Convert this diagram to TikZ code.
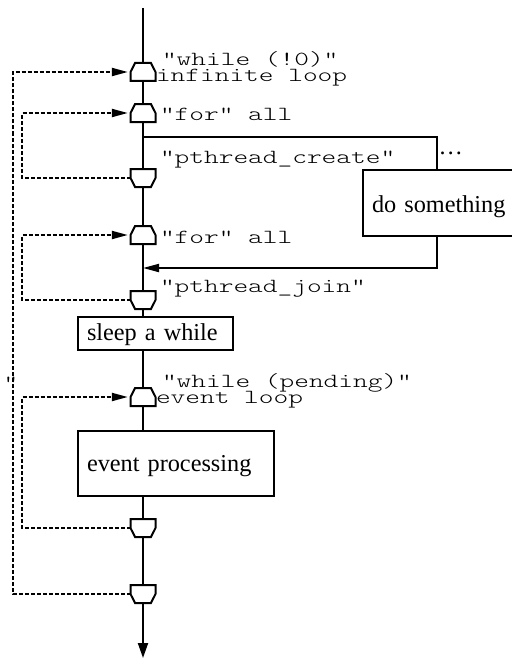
\documentclass[tikz,border=0pt]{standalone}
\usepackage{fontspec}
\setmainfont{Liberation Serif}
\newfontfamily\codefont{lmmonolt10-regular.otf}[FakeStretch=1.4]
\usetikzlibrary{arrows.meta}
\newcommand\loopstartshape[1]{\draw[shapeline] (#1.south west) -- ([yshift=-6.75pt]#1.north west) -- ([xshift=3.4pt]#1.north west) -- ([xshift=-3.4pt]#1.north east) -- ([yshift=-6.75pt]#1.north east) -- (#1.south east) -- cycle;}
\newcommand\loopendshape[1]{\draw[shapeline] (#1.north west) -- ([yshift=6.75pt]#1.south west) -- ([xshift=3.4pt]#1.south west) -- ([xshift=-3.4pt]#1.south east) -- ([yshift=6.75pt]#1.south east) -- (#1.north east) -- cycle;}
\begin{document}
\begin{tikzpicture}[x=0.75pt,y=-0.75pt,
  line width=1.5pt,
  flow/.style={draw=black, line width=1.5pt},
  shapeline/.style={draw=black, fill=white, line width=1.5pt, line join=miter},
  loopnode/.style={minimum width=18.75pt, minimum height=13.5pt, inner sep=0pt, outer sep=0pt},
  back/.style={draw=black, line width=1.5pt, dash pattern=on 3pt off 1.5pt, shorten >=2pt},
  code/.style={font=\codefont\fontsize{15pt}{16pt}\selectfont, inner sep=0pt, anchor=base west},
  serif/.style={font=\fontsize{18.2pt}{20pt}\selectfont},
  box/.style={draw=black, line width=1.5pt, serif, anchor=base west, inner xsep=6.75pt, inner ysep=0pt, outer sep=0pt, align=left},
  tip/.style={-{Triangle[length=12pt,width=6pt]}}
]
\useasboundingbox (0,0) rectangle (511,660);

% main axis nodes
\coordinate (top) at (143,8);
\node[loopnode] (s1) at (143,72) {};
\node[loopnode] (s2) at (143,113) {};
\coordinate (j1) at (143,137);
\node[loopnode] (e2) at (143,178) {};
\node[loopnode] (s3) at (143,235) {};
\coordinate (j2) at (143,268);
\node[loopnode] (e3) at (143,300) {};
\node[box, text width=102.75pt, text height=17.6pt, text depth=7.1pt] (sleep) at (78,340.5) {sleep a while};
\node[loopnode] (s4) at (143,397) {};
\node[box, text width=133.5pt, text height=30.4pt, text depth=18.4pt] (ev) at (78,471.5) {event processing};
\node[loopnode] (e4) at (143,528) {};
\node[loopnode] (e1) at (143,594) {};
\coordinate (bot) at (143,658);

% thread branch
\coordinate (c1) at (437,137);
\coordinate (c2) at (437,268);
\node[box, text width=106.5pt, text height=31.5pt, text depth=18pt] (doit) at (363,212) {do something};

% loop-back columns
\coordinate (L0) at (13,0);
\coordinate (L1) at (22,0);

% main flow
\draw[flow] (top) -- (s1.north);
\draw[flow] (s1.south) -- (s2.north);
\draw[flow] (s2.south) -- (e2.north);
\draw[flow] (e2.south) -- (s3.north);
\draw[flow] (s3.south) -- (e3.north);
\draw[flow] (e3.south) -- (e3.south |- sleep.north);
\draw[flow] (e3.south |- sleep.south) -- (s4.north);
\draw[flow] (s4.south) -- (s4.south |- ev.north);
\draw[flow] (s4.south |- ev.south) -- (e4.north);
\draw[flow] (e4.south) -- (e1.north);
\draw[flow, -{Triangle[length=11.25pt,width=7.5pt]}] (e1.south) -- (bot);

% fork / join
\draw[flow] (j1) -- (c1) -- (c1 |- doit.north);
\draw[flow, tip] (c1 |- doit.south) -- (c2) -- (j2);

% loop backs
\draw[back, tip] (e1.west) -| (L0 |- s1) -- (s1.west);
\draw[back, tip] (e2.west) -| (L1 |- s2) -- (s2.west);
\draw[back, tip] (e3.west) -| (L1 |- s3) -- (s3.west);
\draw[back, tip] (e4.west) -| (L1 |- s4) -- (s4.west);

% loop shapes
\loopstartshape{s1}
\loopstartshape{s2}
\loopstartshape{s3}
\loopstartshape{s4}
\loopendshape{e2}
\loopendshape{e3}
\loopendshape{e4}
\loopendshape{e1}

% labels
\node[code] (t1a) at (161,65) {"while (!0)"};
\node[code] (t1b) at (155,81.7) {infinite loop};
\node[code] (t2) at (159,120) {"for" all};
\node[code] (t3) at (159,163) {"pthread\_create"};
\node[serif, inner sep=0pt, anchor=base west] (dots) at (437.5,154) {…};
\node[code] (t4) at (159,243) {"for" all};
\node[code] (t5) at (159,292) {"pthread\_join"};
\node[code] (t6a) at (161,387) {"while (pending)"};
\node[code] (t6b) at (155,403) {event loop};
\node[code] (q) at (2.6,389) {"};
\end{tikzpicture}
\end{document}
